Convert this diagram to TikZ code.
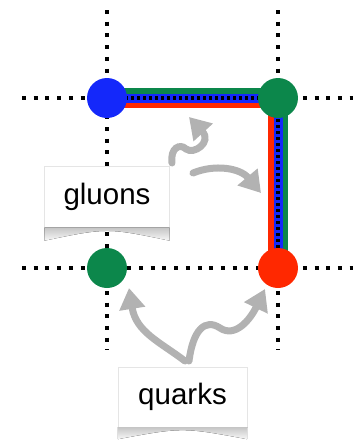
\documentclass[tikz,border=0pt]{standalone}
\usepackage{fontspec}
\setmainfont{Liberation Sans}
\usetikzlibrary{matrix,shapes,arrows,arrows.meta,backgrounds}

\definecolor{qblue}{RGB}{20,40,250}
\definecolor{qgreen}{RGB}{12,135,75}
\definecolor{qred}{RGB}{255,40,0}
\definecolor{hintgray}{RGB}{178,178,178}

\begin{document}
\begin{tikzpicture}[x=1pt,y=-1pt]
      \tikzstyle{point} = [coordinate]
      \tikzstyle{quark} = [circle, fill, inner sep=0pt, minimum size=40pt]
      \tikzstyle{lattice} = [line width=4pt, dash pattern=on 4pt off 7.7pt]
      \tikzstyle{tag} = [rectangle, draw=gray!20, fill=white, minimum width=125pt, minimum height=61pt, font=\fontsize{29.5}{30}\selectfont]
      \tikzstyle{curl} = [top color=gray!45, bottom color=gray!5]
      \tikzstyle{hint} = [line width=7pt, hintgray, line cap=round, -{Triangle[length=21pt,width=25pt]}]
      \useasboundingbox (0,0) rectangle (358,440);
      \matrix[row sep=130pt, column sep=131pt] at (192.5,183) {
        % top row
        \node (blu) [quark, qblue] {};&
        \node (grn) [quark, qgreen] {};\\
        % bottom row
        \node (gbl) [quark, qgreen] {};&
        \node (red) [quark, qred] {};\\
      };
      \begin{scope}[on background layer]
        % lattice
        \draw [lattice] ([yshift=88pt]blu.center)--([yshift=-82pt]gbl.center);
        \draw [lattice] ([yshift=88pt]grn.center)--([yshift=-82pt]red.center);
        \draw [lattice] ([xshift=-85pt]blu.center)--([xshift=75pt]grn.center);
        \draw [lattice] ([xshift=-85pt]gbl.center)--([xshift=75pt]red.center);
        % string
        \draw [qgreen, line width=10pt] ([yshift=5pt]blu.center)--([xshift=5pt,yshift=5pt]grn.center)--([xshift=5pt]red.center);
        \draw [qred, line width=10pt] ([yshift=-5pt]blu.center)--([xshift=-5pt,yshift=-5pt]grn.center)--([xshift=-5pt]red.center);
        \draw [qblue, line width=9pt] (blu.center)--(grn.center)--(red.center);
        \draw [line width=4.5pt, dash pattern=on 3pt off 3pt] (blu.center)--(grn.center)--(red.center);
      \end{scope}
      % labels
      \node (glu) [tag] at (107,197) {gluons};
      \node (qrk) [tag, minimum width=129pt, minimum height=60pt] at (182.5,397) {quarks};
      \fill [curl] (glu.south west)--([yshift=-13pt]glu.south west) .. controls ([yshift=0pt]glu.south) .. ([yshift=-13pt]glu.south east)--(glu.south east)--cycle;
      \fill [curl] (qrk.south west)--([yshift=-12pt]qrk.south west) .. controls ([yshift=0pt]qrk.south) .. ([yshift=-12pt]qrk.south east)--(qrk.south east)--cycle;
      \coordinate (g1) at (172,163);
      \coordinate (g2) at (193,173);
      \coordinate (q1) at (185,361);
      \coordinate (q2) at (189,361);
      \coordinate (t1) at (189,117);
      \coordinate (t2) at (261,193);
      \coordinate (t3) at (129,288);
      \coordinate (t4) at (265,289);
      \draw [hint] (g1) .. controls (170,148) and (180,143) .. (186,149) .. controls (194,155) and (212,142) .. (t1);
      \draw [hint] (g2) .. controls (215,164) and (240,168) .. (t2);
      \draw [hint] (q1) .. controls (160,342) and (136,332) .. (t3);
      \draw [hint] (q2) .. controls (193,330) and (205,318) .. (220,328) .. controls (235,338) and (250,320) .. (t4);
\end{tikzpicture}
\end{document}
